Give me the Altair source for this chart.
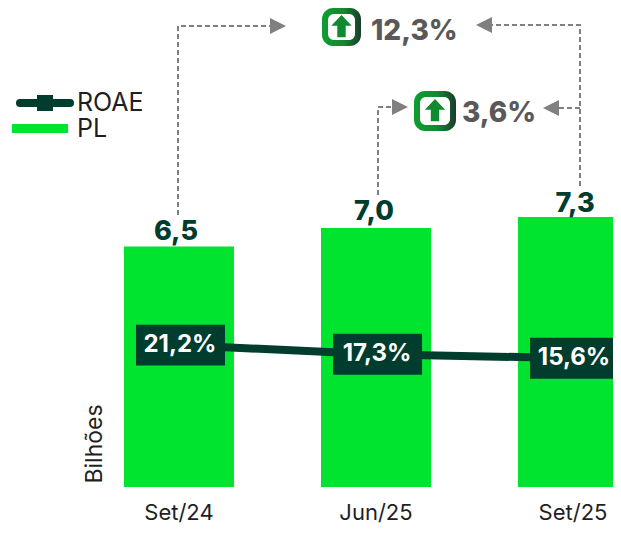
import altair as alt
import pandas as pd

FONT = "Inter"
DARK = "#003D2E"
GREEN = "#00E32F"
GRAY = "#808080"
TXT = "#1F1F1F"
OX, OY = 8, 8  # page margin: annotation positions below are page pixels

periods = ["Set/24", "Jun/25", "Set/25"]
pl = [6.5, 7.0, 7.3]
pl_labels = ["6,5", "7,0", "7,3"]
pl_shift_y = [-7, -8, -5]
pl_shift_x = [-3, -2, 2]
roae = [21.2, 17.3, 15.6]
roae_labels = ["21,2%", "17,3%", "15,6%"]

# annotation geometry (page pixels)
dash_paths = {
    "a": [(178, 215), (178, 26), (272, 26)],
    "b": [(580, 186), (580, 25), (490, 25)],
    "c": [(378, 195), (378, 107), (394, 107)],
    "d": [(580, 108), (557, 108)],
}
right_heads = [(278, 26), (400, 107)]
left_heads = [(484, 25), (551, 108)]
icons = [(322, 8, 361, 46), (414, 91, 456, 131)]
delta_text = [("12,3%", 371, 32), ("3,6%", 462, 114)]

df = pd.DataFrame({"period": periods, "pl": pl, "lab": pl_labels, "roae": roae, "rlab": roae_labels})
df["boxoff"] = 56.5

W, H = 605, 479
x_band = alt.Scale(type="band", domain=periods, range=[116, 620], paddingInner=0.442, paddingOuter=0)
y_pl = alt.Scale(domain=[0, 479 / 37], range=[479, 0])
y_ro = alt.Scale(domain=[-39.7, 165.9], range=[479, 0])

X = alt.X("period:N", scale=x_band, sort=periods, title=None,
          axis=alt.Axis(labelAngle=0, ticks=False, domain=False, labelFont=FONT,
                        labelFontSize=22, labelColor=TXT, labelPadding=15, grid=False))
X0 = alt.X("period:N", scale=x_band, sort=periods, axis=None)

bars = alt.Chart(df).mark_bar(color=GREEN, width=110).encode(
    x=X, y=alt.Y("pl:Q", scale=y_pl, axis=None))
line = alt.Chart(df).mark_line(color=DARK, strokeWidth=8).encode(
    x=X0, y=alt.Y("roae:Q", scale=y_ro, axis=None))
boxes = alt.Chart(df).mark_point(filled=True, opacity=1, color=DARK, size=89 ** 2,
                                 shape="M-1,-0.46H1V0.46H-1Z").encode(
    x=X0, xOffset=alt.XOffset("boxoff:Q", scale=None), y=alt.Y("roae:Q", scale=y_ro, axis=None))
box_text = alt.Chart(df).mark_text(font=FONT, fontWeight=700, fontSize=24, color="white", dx=1).encode(
    x=X0, y=alt.Y("roae:Q", scale=y_ro, axis=None), text="rlab:N")

PX = alt.X("x:Q", scale=None, axis=None)
PY = alt.Y("y:Q", scale=None, axis=None)

def pts(rows):
    return pd.DataFrame([{"x": x - OX, "y": y - OY, "i": i} for i, (x, y) in enumerate(rows)])

layers = [bars]
for i in range(len(periods)):
    layers.append(alt.Chart(df.iloc[[i]]).mark_text(
        font=FONT, fontWeight=800, fontSize=27, color=DARK, baseline="alphabetic",
        dx=pl_shift_x[i], dy=pl_shift_y[i]).encode(
        x=X0, y=alt.Y("pl:Q", scale=y_pl, axis=None), text="lab:N"))
layers += [line, boxes, box_text]

for path in dash_paths.values():
    layers.append(alt.Chart(pts(path)).mark_line(color=GRAY, strokeWidth=2, strokeDash=[5, 3]).encode(
        x=PX, y=PY, order="i:Q"))

layers.append(alt.Chart(pts(right_heads)).mark_point(filled=True, opacity=1, color=GRAY, size=256,
              shape="M-1,-1L1,0L-1,1Z").encode(x=PX, y=PY))
layers.append(alt.Chart(pts(left_heads)).mark_point(filled=True, opacity=1, color=GRAY, size=256,
              shape="M1,-1L-1,0L1,1Z").encode(x=PX, y=PY))

grad = alt.LinearGradient(gradient="linear", x1=0, y1=0, x2=1, y2=0,
                          stops=[alt.GradientStop(color="#0F9D32", offset=0),
                                 alt.GradientStop(color="#128A30", offset=0.55),
                                 alt.GradientStop(color="#1B3B2C", offset=1)])
for (x0, y0, x1, y1) in icons:
    d = pd.DataFrame({"x": [x0 - OX], "x2": [x1 - OX], "y": [y0 - OY], "y2": [y1 - OY]})
    layers.append(alt.Chart(d).mark_rect(cornerRadius=11, fill=grad).encode(
        x=PX, x2="x2:Q", y=PY, y2="y2:Q"))
    inner = pd.DataFrame({"x": [x0 + 6 - OX], "x2": [x1 - 6 - OX], "y": [y0 + 6 - OY], "y2": [y1 - 6 - OY]})
    layers.append(alt.Chart(inner).mark_rect(cornerRadius=6, fill="white").encode(
        x=PX, x2="x2:Q", y=PY, y2="y2:Q"))
    arrow = pts([((x0 + x1) / 2, (y0 + y1) / 2)])
    layers.append(alt.Chart(arrow).mark_point(filled=True, opacity=1, color="#0F8A2E", size=24 ** 2,
                  shape="M0,-1L0.85,-0.1L0.35,-0.1L0.35,0.85L-0.35,0.85L-0.35,-0.1L-0.85,-0.1Z").encode(x=PX, y=PY))

d_txt = pd.DataFrame([{"t": t, "x": x - OX, "y": y - OY} for t, x, y in delta_text])
layers.append(alt.Chart(d_txt).mark_text(font=FONT, fontWeight=800, fontSize=28, color="#595959", align="left").encode(
    x=PX, y=PY, text="t:N"))

# hand-placed legend
leg_line = pts([(20, 103), (70, 103)])
layers.append(alt.Chart(leg_line).mark_line(color=DARK, strokeWidth=8, strokeCap="round").encode(x=PX, y=PY, order="i:Q"))
layers.append(alt.Chart(pts([(45, 103)])).mark_point(filled=True, opacity=1, color=DARK, size=16 ** 2,
              shape="M-1,-1H1V1H-1Z").encode(x=PX, y=PY))
pl_leg = pd.DataFrame({"x": [12 - OX], "x2": [68 - OX], "y": [124 - OY], "y2": [133 - OY]})
layers.append(alt.Chart(pl_leg).mark_rect(fill=GREEN).encode(x=PX, x2="x2:Q", y=PY, y2="y2:Q"))
leg_txt = pd.DataFrame([{"t": "ROAE", "x": 77 - OX, "y": 103 - OY}, {"t": "PL", "x": 77 - OX, "y": 129 - OY}])
layers.append(alt.Chart(leg_txt).mark_text(font=FONT, fontSize=25, color=TXT, align="left").encode(x=PX, y=PY, text="t:N"))

bil = pd.DataFrame([{"t": "Bilhões", "x": 95 - OX, "y": 444 - OY}])
layers.append(alt.Chart(bil).mark_text(font=FONT, fontSize=23, color=TXT, angle=270).encode(x=PX, y=PY, text="t:N"))

chart = alt.layer(*layers).resolve_scale(x="independent", y="independent").properties(
    width=W, height=H, padding={"left": 0, "top": 0, "right": 0, "bottom": 38},
    autosize=alt.AutoSizeParams(type="none")
).configure_view(stroke=None)

chart.save("out.html", embed_options={"renderer": "svg", "actions": False})
